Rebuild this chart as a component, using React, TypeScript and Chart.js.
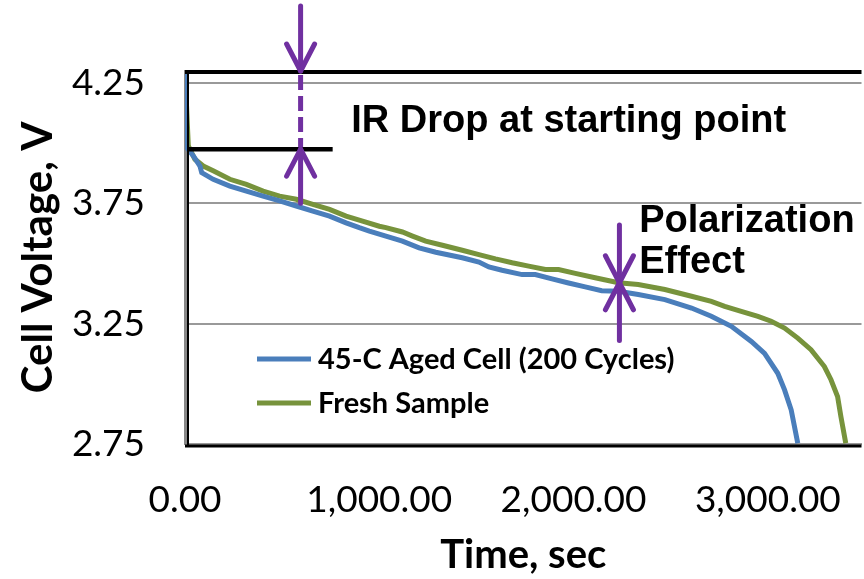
import React, { useEffect, useRef } from 'react';
import { Chart, registerables } from 'chart.js';

Chart.register(...registerables);

// ---------- data ----------
const seriesLabels = ['45-C Aged Cell (200 Cycles)', 'Fresh Sample'];

const agedTime = [0, 9, 43, 77, 86, 145, 231, 316, 402, 487, 573, 658, 744, 829, 897, 949, 1034, 1119, 1205, 1291, 1427, 1513, 1564, 1632, 1735, 1803, 1889, 1974, 2060, 2145, 2231, 2333, 2470, 2607, 2709, 2812, 2915, 2983, 3051, 3086, 3120, 3154];
const agedVoltage = [4.29, 3.982, 3.947, 3.905, 3.878, 3.85, 3.822, 3.801, 3.78, 3.76, 3.739, 3.718, 3.697, 3.669, 3.649, 3.635, 3.614, 3.593, 3.565, 3.547, 3.524, 3.506, 3.486, 3.472, 3.454, 3.454, 3.436, 3.419, 3.403, 3.387, 3.385, 3.371, 3.35, 3.315, 3.281, 3.239, 3.176, 3.127, 3.044, 2.975, 2.892, 2.753];

const freshTime = [0, 17, 51, 94, 145, 231, 316, 402, 487, 573, 658, 744, 829, 914, 1000, 1034, 1119, 1171, 1239, 1325, 1427, 1513, 1598, 1684, 1769, 1855, 1923, 2009, 2111, 2231, 2333, 2470, 2607, 2709, 2778, 2863, 2949, 3017, 3086, 3154, 3222, 3291, 3325, 3359, 3376, 3401];
const freshVoltage = [4.3, 3.989, 3.933, 3.905, 3.885, 3.85, 3.829, 3.801, 3.78, 3.767, 3.746, 3.725, 3.697, 3.676, 3.655, 3.649, 3.631, 3.614, 3.593, 3.576, 3.555, 3.537, 3.519, 3.503, 3.489, 3.475, 3.475, 3.459, 3.441, 3.42, 3.413, 3.392, 3.364, 3.343, 3.322, 3.301, 3.28, 3.26, 3.232, 3.19, 3.142, 3.072, 3.017, 2.947, 2.864, 2.753];

const xTickValues = [0, 1000, 2000, 3000];
const yTickValues = [2.75, 3.25, 3.75, 4.25];
const xMin = 0;
const xMax = 3482;
const yMin = 2.75;
const yMax = 4.3;

// annotation anchors (data coordinates)
const irLevel = 3.975;
const irLineEndTime = 760;
const irArrowTime = 595;
const irArrowTopStart = 4.57;
const irArrowBottomStart = 3.75;
const polarTime = 2236;
const polarLevel = 3.42;
const polarArrowTopStart = 3.66;
const polarArrowBottomStart = 3.18;
const annotationTexts = ['IR Drop at starting point', 'Polarization', 'Effect'];
const annotationTimes = [856, 2338, 2338];
const annotationLevels = [4.046, 3.633, 3.4625];

// ---------- styles ----------
const BLUE = '#4A7EBB';
const GREEN = '#77933C';
const PURPLE = '#7030A0';
const TICK_FONT = 'Lato';

function drawArrow(ctx: CanvasRenderingContext2D, x: number, yFrom: number, yTo: number) {
  const dir = yTo > yFrom ? 1 : -1;
  ctx.beginPath();
  ctx.moveTo(x, yFrom);
  ctx.lineTo(x, yTo);
  ctx.stroke();
  ctx.beginPath();
  ctx.moveTo(x - 14, yTo - dir * 27);
  ctx.lineTo(x, yTo);
  ctx.lineTo(x + 14, yTo - dir * 27);
  ctx.stroke();
}

const overlayPlugin = {
  id: 'overlay',
  afterDatasetsDraw(chart: any) {
    const { ctx, chartArea: a, scales } = chart;
    const x = scales.x;
    const y = scales.y;
    ctx.save();
    ctx.lineCap = 'butt';
    // plot frame
    ctx.strokeStyle = '#000';
    ctx.lineWidth = 4;
    ctx.beginPath();
    ctx.moveTo(a.left, a.top + 1);
    ctx.lineTo(a.right, a.top + 1);
    ctx.stroke();
    ctx.lineWidth = 2;
    ctx.beginPath();
    ctx.moveTo(a.left + 3, a.top);
    ctx.lineTo(a.left + 3, a.bottom + 2);
    ctx.stroke();
    ctx.lineWidth = 3;
    ctx.beginPath();
    ctx.moveTo(a.left, a.bottom + 2);
    ctx.lineTo(a.right, a.bottom + 2);
    ctx.stroke();

    // IR drop level line
    const irY = y.getPixelForValue(irLevel);
    ctx.lineWidth = 4.5;
    ctx.beginPath();
    ctx.moveTo(x.getPixelForValue(0) + 2, irY);
    ctx.lineTo(x.getPixelForValue(irLineEndTime), irY);
    ctx.stroke();

    // purple arrows
    ctx.strokeStyle = PURPLE;
    ctx.lineWidth = 5;
    ctx.lineCap = 'round';
    ctx.lineJoin = 'round';
    const irX = x.getPixelForValue(irArrowTime);
    const topY = y.getPixelForValue(yMax);
    drawArrow(ctx, irX, y.getPixelForValue(irArrowTopStart), topY);
    drawArrow(ctx, irX, y.getPixelForValue(irArrowBottomStart), irY);
    ctx.lineCap = 'butt';
    ctx.setLineDash([15, 6]);
    ctx.beginPath();
    ctx.moveTo(irX, topY + 4);
    ctx.lineTo(irX, irY - 2);
    ctx.stroke();
    ctx.setLineDash([]);
    ctx.lineCap = 'round';

    const pX = x.getPixelForValue(polarTime);
    const pY = y.getPixelForValue(polarLevel);
    drawArrow(ctx, pX, y.getPixelForValue(polarArrowTopStart), pY);
    drawArrow(ctx, pX, y.getPixelForValue(polarArrowBottomStart), pY);

    // annotation texts
    ctx.fillStyle = '#000';
    ctx.font = 'bold 38px "Liberation Sans", Arial, sans-serif';
    ctx.textAlign = 'left';
    ctx.textBaseline = 'alphabetic';
    annotationTexts.forEach((t, i) => {
      ctx.fillText(t, x.getPixelForValue(annotationTimes[i]), y.getPixelForValue(annotationLevels[i]));
    });

    // legend (inside plot area)
    const lx = a.left + 72;
    const rows = [a.top + 288, a.top + 332];
    ctx.font = `bold 29px ${TICK_FONT}, sans-serif`;
    ctx.textBaseline = 'middle';
    ctx.lineCap = 'butt';
    chart.data.datasets.forEach((ds: any, i: number) => {
      ctx.strokeStyle = ds.borderColor;
      ctx.lineWidth = 5;
      ctx.beginPath();
      ctx.moveTo(lx, rows[i]);
      ctx.lineTo(lx + 54, rows[i]);
      ctx.stroke();
      ctx.fillStyle = '#000';
      ctx.fillText(ds.label, lx + 61, rows[i] + 1);
    });
    ctx.restore();
  },
};

function fmtX(v: number) {
  return Number(v).toLocaleString('en-US', { minimumFractionDigits: 2, maximumFractionDigits: 2 });
}

export default function App() {
  const ref = useRef<HTMLCanvasElement>(null);
  useEffect(() => {
    if (!ref.current) return;
    const chart = new Chart(ref.current, {
      type: 'line',
      data: {
        datasets: [
          {
            label: seriesLabels[0],
            data: agedTime.map((t, i) => ({ x: t, y: agedVoltage[i] })),
            borderColor: BLUE,
            backgroundColor: BLUE,
            borderWidth: 5,
            pointRadius: 0,
            tension: 0,
          },
          {
            label: seriesLabels[1],
            data: freshTime.map((t, i) => ({ x: t, y: freshVoltage[i] })),
            borderColor: GREEN,
            backgroundColor: GREEN,
            borderWidth: 5,
            pointRadius: 0,
            tension: 0,
          },
        ],
      },
      options: {
        responsive: false,
        animation: false,
        devicePixelRatio: 1,
        layout: { padding: { top: 71, left: 0, right: -4, bottom: 0 } },
        plugins: {
          legend: { display: false },
          tooltip: { enabled: false },
        },
        scales: {
          x: {
            type: 'linear',
            min: xMin,
            max: xMax,
            afterBuildTicks: (s: any) => {
              s.ticks = xTickValues.map((v) => ({ value: v }));
            },
            afterFit: (s: any) => {
              s.height = 135;
              s.paddingLeft = 0;
              s.paddingRight = 0;
            },
            grid: { display: false, drawTicks: false },
            border: { display: true, color: '#999', width: 2 },
            ticks: {
              color: '#000',
              font: { family: TICK_FONT, size: 37 },
              padding: 34,
              maxRotation: 0,
              autoSkip: false,
              callback: (v: any) => fmtX(v),
            },
            title: {
              display: true,
              text: 'Time, sec',
              color: '#000',
              font: { family: TICK_FONT, size: 40, weight: 'bold' },
              padding: { top: 0, bottom: 0 },
            },
          },
          y: {
            type: 'linear',
            min: yMin,
            max: yMax,
            afterBuildTicks: (s: any) => {
              s.ticks = yTickValues.map((v) => ({ value: v }));
            },
            afterFit: (s: any) => {
              s.width = 185;
              s.paddingTop = 0;
              s.paddingBottom = 0;
            },
            grid: { display: true, color: '#999', lineWidth: 2, drawTicks: false },
            border: { display: true, color: '#888', width: 3 },
            ticks: {
              color: '#000',
              font: { family: TICK_FONT, size: 37 },
              padding: 40,
              callback: (v: any) => Number(v).toFixed(2),
            },
            title: {
              display: true,
              text: 'Cell Voltage, V',
              color: '#000',
              font: { family: TICK_FONT, size: 42, weight: 'bold' },
              padding: { top: 13, bottom: 0 },
            },
          },
        },
      },
      plugins: [overlayPlugin],
    } as any);
    const fonts = (document as any).fonts;
    if (fonts && fonts.load) {
      Promise.all([
        fonts.load(`37px ${TICK_FONT}`),
        fonts.load(`bold 37px ${TICK_FONT}`),
        fonts.load('bold 38px "Liberation Sans"'),
      ])
        .then(() => chart.update())
        .catch(() => {});
    }
    return () => chart.destroy();
  }, []);
  return (
    <div style={{ position: 'absolute', left: 0, top: 0, width: 864, height: 579, background: '#fff', overflow: 'hidden' }}>
      <canvas ref={ref} width={864} height={579} style={{ display: 'block', width: 864, height: 579 }} />
    </div>
  );
}
